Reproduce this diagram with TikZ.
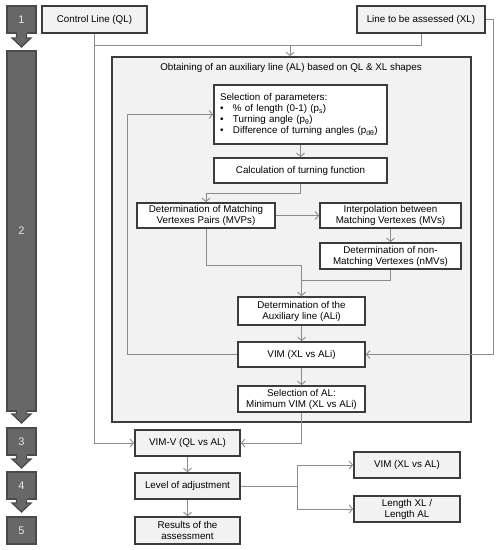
\documentclass[tikz,border=0pt]{standalone}
\usepackage{fontspec}
\setmainfont{Liberation Sans}
\usetikzlibrary{arrows.meta}
\definecolor{bord}{HTML}{3C3C3C}
\definecolor{lite}{HTML}{F2F2F2}
\definecolor{stepfill}{HTML}{676767}
\definecolor{stepbord}{HTML}{4A4A4A}
\definecolor{conncol}{HTML}{8C8C8C}
\definecolor{numcol}{HTML}{E6E6E6}
\tikzset{
  bx/.style={draw=bord, line width=1.7pt, fill=white, inner sep=1pt, align=center,
    font=\fontsize{9.8}{11}\selectfont},
  lbx/.style={bx, fill=lite},
  panel/.style={draw=bord, line width=1.7pt, fill=lite},
  stepbox/.style={draw=stepbord, line width=1.2pt, fill=stepfill, text=numcol,
    font=\fontsize{11}{13}\selectfont},
  steparrow/.style={draw=stepbord, line width=1.2pt, fill=stepfill},
  conn/.style={draw=conncol, line width=0.9pt},
  arr/.style={conn, -{Straight Barb[length=3.5pt,width=8pt]}},
}
\begin{document}
\begin{tikzpicture}[x=1pt,y=-1pt]
\useasboundingbox (0,0) rectangle (501,550);
% panel
\node[panel, minimum width=359pt, minimum height=365pt] (big) at (291.5,239.5) {};
\node[font=\fontsize{9.8}{11}\selectfont] (title) at (291,68) {Obtaining of an auxiliary line (AL) based on QL \& XL shapes};
% top boxes
\node[lbx, minimum width=105pt, minimum height=27pt] (ql) at (94.5,19.5) {Control Line (QL)};
\node[lbx, minimum width=128pt, minimum height=27pt] (xl) at (421,19.5) {Line to be assessed (XL)};
% inner boxes
\node[bx, minimum width=173pt, minimum height=59pt, align=left, text width=161pt, inner sep=0pt] (sel) at (300.5,114.5)
  {Selection of parameters:\\
   \makebox[13pt][l]{\textbullet}\% of length (0-1) (p\textsubscript{s})\\
   \makebox[13pt][l]{\textbullet}Turning angle (p\textsubscript{θ})\\
   \makebox[13pt][l]{\textbullet}Difference of turning angles (p\textsubscript{dθ})};
\node[bx, minimum width=173pt, minimum height=25pt] (calc) at (300.5,170.5) {Calculation of turning function};
\node[bx, minimum width=138pt, minimum height=25pt] (mvp) at (206,215.5) {Determination of Matching\\Vertexes Pairs (MVPs)};
\node[bx, minimum width=141pt, minimum height=25pt] (interp) at (390.5,215.5) {Interpolation between\\Matching Vertexes (MVs)};
\node[bx, minimum width=141pt, minimum height=26pt] (nmv) at (390.5,256) {Determination of non-\\Matching Vertexes (nMVs)};
\node[bx, minimum width=127pt, minimum height=28pt] (ali) at (301.5,311) {Determination of the\\Auxiliary line (ALi)};
\node[bx, minimum width=127pt, minimum height=25pt] (vim) at (301.5,354.5) {VIM (XL vs ALi)};
\node[bx, minimum width=127pt, minimum height=26pt] (selal) at (301.5,399) {Selection of AL:\\Minimum VIM (XL vs ALi)};
% bottom boxes
\node[lbx, minimum width=105pt, minimum height=26pt] (vimv) at (187.5,443) {VIM-V (QL vs AL)};
\node[lbx, minimum width=105pt, minimum height=26pt] (level) at (187.5,486) {Level of adjustment};
\node[lbx, minimum width=105pt, minimum height=27pt] (res) at (187.5,530.5) {Results of the\\assessment};
\node[lbx, minimum width=106pt, minimum height=26pt] (vimal) at (407,465) {VIM (XL vs AL)};
\node[lbx, minimum width=106pt, minimum height=26pt] (len) at (407,509) {Length XL /\\Length AL};
% coordinates
\coordinate (j) at (290,45);
\coordinate (rr) at (493,19.5);
\coordinate (lx) at (127,0);
\coordinate (c1) at (206,193);
\coordinate (m1) at (301.5,265);
\coordinate (n1) at (390.5,280);
\coordinate (n2) at (301.5,280);
\coordinate (sp) at (297,486);
% connectors
\draw[arr] (ql.south) |- (vimv.west);
\draw[conn] (ql.south |- j) -- (j);
\draw[conn] (xl.south) |- (j);
\draw[arr] (j) -- (j |- big.north);
\draw[arr] (xl.east) -- (rr) |- (vim.east);
\draw[arr] (vim.west) -- (vim.west -| lx) |- (sel.west);
\draw[arr] (sel.south) -- (calc.north);
\draw[arr] (calc.south) |- (c1) -- (mvp.north);
\draw[arr] (mvp.east) -- (interp.west);
\draw[arr] (interp.south) -- (nmv.north);
\draw[arr] (mvp.south) |- (m1) -- (ali.north);
\draw[conn] (nmv.south) -- (n1) -- (n2);
\draw[arr] (ali.south) -- (vim.north);
\draw[arr] (vim.south) -- (selal.north);
\draw[arr] (selal.south) |- (vimv.east);
\draw[arr] (vimv.south) -- (level.north);
\draw[arr] (level.south) -- (res.north);
\draw[conn] (level.east) -- (sp);
\draw[arr] (sp) |- (vimal.west);
\draw[arr] (sp) |- (len.west);
% steps
\node[stepbox, minimum width=29pt, minimum height=27pt] (s1) at (21.5,19.5) {1};
\node[stepbox, minimum width=29pt, minimum height=360pt] (s2) at (21.5,231) {2};
\node[stepbox, minimum width=29pt, minimum height=27pt] (s3) at (21.5,441.5) {3};
\node[stepbox, minimum width=29pt, minimum height=27pt] (s4) at (21.5,485.5) {4};
\node[stepbox, minimum width=29pt, minimum height=27pt] (s5) at (21.5,530.5) {5};
\foreach \t/\tip in {33/47, 411/423, 455/468, 499/512}{
  \fill[stepfill] (16.5,\t-1) rectangle (26.5,\tip-9);
  \draw[steparrow] (16.5,\t+0.6) -- (16.5,\tip-9) -- (12,\tip-9) -- (21.5,\tip) -- (31,\tip-9) -- (26.5,\tip-9) -- (26.5,\t+0.6);
}
\end{tikzpicture}
\end{document}
